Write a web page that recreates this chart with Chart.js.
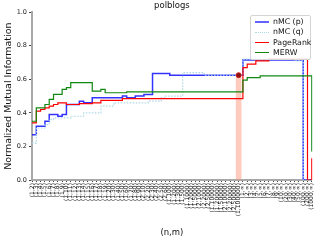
<!DOCTYPE html>
<html>
<head>
<meta charset="utf-8">
<script src="https://cdn.jsdelivr.net/npm/chart.js@4.4.0/dist/chart.umd.min.js"></script>
<style>
  body { margin: 0; background: #fff; }
  #wrap { position: relative; width: 320px; height: 240px; }
  #legend {
    position: absolute; left: 250px; top: 15px; width: 59px;
    padding: 1px 0; border: 1px solid #d4d4d4; border-radius: 2px;
    background: rgba(255,255,255,0.85);
    font: 7.8px "DejaVu Sans"; color: #111;
  }
  .item { height: 10.3px; line-height: 10.3px; white-space: nowrap; }
  .swatch { display: inline-block; width: 14px; margin: 0 4px 0 4px; vertical-align: middle; }
</style>
</head>
<body>
<div id="wrap">
  <canvas id="myChart" width="320" height="240"></canvas>
  <div id="legend"></div>
</div>
<script>
const xLabels = [
  "(1,2)", "(1,3)", "(1,4)", "(1,5)", "(1,6)", "(1,7)", "(1,8)", "(1,9)",
  "(1,10)", "(1,11)", "(1,12)", "(1,13)", "(1,14)", "(1,15)", "(1,16)", "(1,17)", "(1,18)", "(1,19)",
  "(1,20)", "(1,30)", "(1,40)", "(1,50)", "(1,60)", "(1,70)", "(1,80)", "(1,90)",
  "(2,10)", "(2,20)", "(2,30)", "(2,40)", "(2,50)", "(2,60)",
  "(1,100)", "(1,200)", "(1,300)", "(1,500)",
  "(1,1000)", "(1,2000)", "(1,5000)", "(2,1000)", "(2,2000)", "(2,5000)",
  "(1,10000)", "(1,20000)", "(1,50000)", "(2,10000)", "(2,20000)", "(2,50000)",
  "(1,100000)",
  "(1,∞)", "(2,∞)", "(3,∞)", "(4,∞)", "(5,∞)", "(6,∞)", "(7,∞)", "(8,∞)", "(9,∞)",
  "(10,∞)", "(20,∞)", "(30,∞)", "(40,∞)", "(50,∞)",
  "(100,∞)", "(200,∞)", "(1000,∞)"
];

const nmcP = [
  0.27, 0.32, 0.32, 0.35, 0.39, 0.39, 0.38, 0.39,
  0.45, 0.45, 0.45, 0.47, 0.46, 0.46,
  0.49, 0.49, 0.49, 0.49, 0.49, 0.49, 0.49,
  0.50, 0.49, 0.49, 0.50, 0.50, 0.51, 0.51,
  0.635, 0.635, 0.635, 0.635,
  0.625, 0.625, 0.625, 0.625, 0.625, 0.625, 0.625, 0.625, 0.625,
  0.625, 0.625, 0.625, 0.625, 0.625, 0.625, 0.625, 0.625,
  0.715, 0.715, 0.715, 0.715, 0.715, 0.715, 0.715,
  0.715, 0.715, 0.715, 0.715, 0.715, 0.715, 0.715,
  0, 0, 0
];

const nmcQ = [
  0.22, 0.31, 0.31, 0.33, 0.36,
  0.37, 0.37, 0.37, 0.37,
  0.38, 0.38, 0.38,
  0.40, 0.40, 0.40, 0.40,
  0.44, 0.44, 0.44,
  0.46, 0.46, 0.46, 0.46, 0.46, 0.46, 0.46, 0.46,
  0.47, 0.47, 0.47, 0.49,
  0.50, 0.50, 0.50, 0.50,
  0.64, 0.64, 0.64, 0.64, 0.64,
  0.625, 0.625, 0.625, 0.625, 0.625, 0.625, 0.625, 0.625, 0.625,
  0.72, 0.72, 0.72, 0.72, 0.72, 0.72, 0.72, 0.72, 0.72, 0.72, 0.72, 0.72,
  0.71, 0.71,
  0, 0, 0
];

const pageRank = [
  0.34, 0.41, 0.42, 0.43, 0.44, 0.45, 0.46, 0.46,
  0.45, 0.45, 0.45, 0.455, 0.455, 0.455, 0.46, 0.46,
  0.475, 0.475, 0.475, 0.475, 0.475,
  0.485, 0.485, 0.485, 0.485, 0.485, 0.485, 0.485, 0.485, 0.485, 0.485,
  0.485, 0.485, 0.485, 0.485, 0.485, 0.485, 0.485, 0.485, 0.485, 0.485,
  0.485, 0.485, 0.485, 0.485, 0.485, 0.485, 0.485, 0.485,
  0.67, 0.69, 0.69, 0.71, 0.71, 0.71,
  0.72, 0.72, 0.72, 0.72, 0.72, 0.72, 0.72, 0.72, 0.72,
  0, 0.13
];

const merw = [
  0.35, 0.43, 0.43, 0.45, 0.48, 0.51, 0.51, 0.54, 0.55,
  0.58, 0.58, 0.58, 0.58, 0.58,
  0.53, 0.53, 0.54,
  0.52, 0.52, 0.52, 0.52, 0.52,
  0.525, 0.525, 0.525, 0.525, 0.525, 0.525, 0.525, 0.525, 0.525,
  0.525, 0.525, 0.525, 0.525, 0.525, 0.525, 0.525, 0.525, 0.525,
  0.525, 0.525, 0.525, 0.525, 0.525, 0.525, 0.525, 0.525, 0.525,
  0.595, 0.61, 0.61, 0.61,
  0.62, 0.62, 0.62, 0.62, 0.62, 0.62, 0.62, 0.62, 0.62, 0.62, 0.62, 0.62,
  0.17
];

// highlighted (n,m) choice
const bandIndex = 48;
const bandValue = 0.62;
const markerValue = 0.625;

const yTicks = [0, 0.2, 0.4, 0.6, 0.8, 1.0];

const seriesNames = ["nMC (p)", "nMC (q)", "PageRank", "MERW"];
const seriesColors = ["rgba(0,0,255,0.8)", "#add8e6", "#ff0000", "#118811"];

const bandData = xLabels.map((l, i) => (i === bandIndex ? bandValue : null));
const markerData = xLabels.map((l, i) => (i === bandIndex ? markerValue : null));

function stepLine(label, data, color, width, dash, order) {
  return {
    type: "line",
    label: label,
    data: data,
    borderColor: color,
    borderWidth: width,
    borderDash: dash,
    stepped: "before",
    pointRadius: 0,
    fill: false,
    order: order,
  };
}

const ctx = document.getElementById("myChart").getContext("2d");
const myChart = new Chart(ctx, {
  type: "line",
  data: {
    labels: xLabels,
    datasets: [
      {
        type: "line",
        label: "chosen",
        data: markerData,
        showLine: false,
        pointRadius: 2.5,
        pointBackgroundColor: "#8b1010",
        pointBorderColor: "#d01010",
        pointBorderWidth: 0.8,
        order: -1,
      },
      stepLine(seriesNames[0], nmcP, seriesColors[0], 1.5, [], 3),
      stepLine(seriesNames[1], nmcQ, seriesColors[1], 1.2, [1.5, 1.5], 2),
      stepLine(seriesNames[2], pageRank, seriesColors[2], 1.2, [], 1),
      stepLine(seriesNames[3], merw, seriesColors[3], 1.2, [], 0),
      {
        type: "bar",
        label: "band",
        data: bandData,
        backgroundColor: "rgba(255,140,110,0.45)",
        barThickness: 5,
        order: 10,
      },
    ],
  },
  options: {
    responsive: false,
    devicePixelRatio: 1,
    animation: false,
    layout: { padding: { left: 0, right: 6, top: 0, bottom: 0 } },
    plugins: {
      legend: { display: false },
      tooltip: { enabled: false },
      title: {
        display: true,
        text: "polblogs",
        fullSize: false,
        color: "#111",
        font: { family: "DejaVu Sans", size: 8.5, weight: "normal" },
        padding: { top: 1, bottom: 1 },
      },
    },
    scales: {
      x: {
        type: "category",
        offset: false,
        grid: { drawOnChartArea: false, drawTicks: true, tickLength: 2, color: "#444", offset: false },
        border: { display: true, color: "#a8a8a8", width: 2 },
        ticks: {
          autoSkip: false,
          minRotation: 90,
          maxRotation: 90,
          padding: 1,
          color: "#111",
          font: { family: "DejaVu Sans", size: 6 },
        },
        title: {
          display: true,
          text: "(n,m)",
          color: "#111",
          font: { family: "DejaVu Sans", size: 8.5 },
          padding: { top: 4, bottom: 2 },
        },
        afterFit: (scale) => { scale.height = 60; },
      },
      y: {
        min: 0,
        max: 1,
        grid: { drawOnChartArea: false, drawTicks: true, tickLength: 3, color: "#444" },
        border: { display: true, color: "#a8a8a8", width: 2 },
        ticks: {
          padding: 2,
          color: "#222",
          font: { family: "DejaVu Sans", size: 6.5 },
          callback: (v) => v.toFixed(1),
        },
        afterBuildTicks: (scale) => { scale.ticks = yTicks.map((v) => ({ value: v })); },
        title: {
          display: true,
          text: "Normalized Mutual Information",
          color: "#111",
          font: { family: "DejaVu Sans", size: 9.5 },
          padding: { top: 3, bottom: 1 },
        },
        afterFit: (scale) => { scale.width = 32; },
      },
    },
  },
});

// legend box in the upper right corner
const legendBox = document.getElementById("legend");
seriesNames.forEach((name, i) => {
  const row = document.createElement("div");
  row.className = "item";
  const sw = document.createElement("span");
  sw.className = "swatch";
  if (i === 0) sw.style.borderTop = "2.5px solid rgba(60,60,255,0.8)";
  else if (i === 1) sw.style.borderTop = "1.5px dotted " + seriesColors[i];
  else sw.style.borderTop = "1.5px solid " + seriesColors[i];
  row.appendChild(sw);
  row.appendChild(document.createTextNode(name));
  legendBox.appendChild(row);
});
</script>
</body>
</html>
